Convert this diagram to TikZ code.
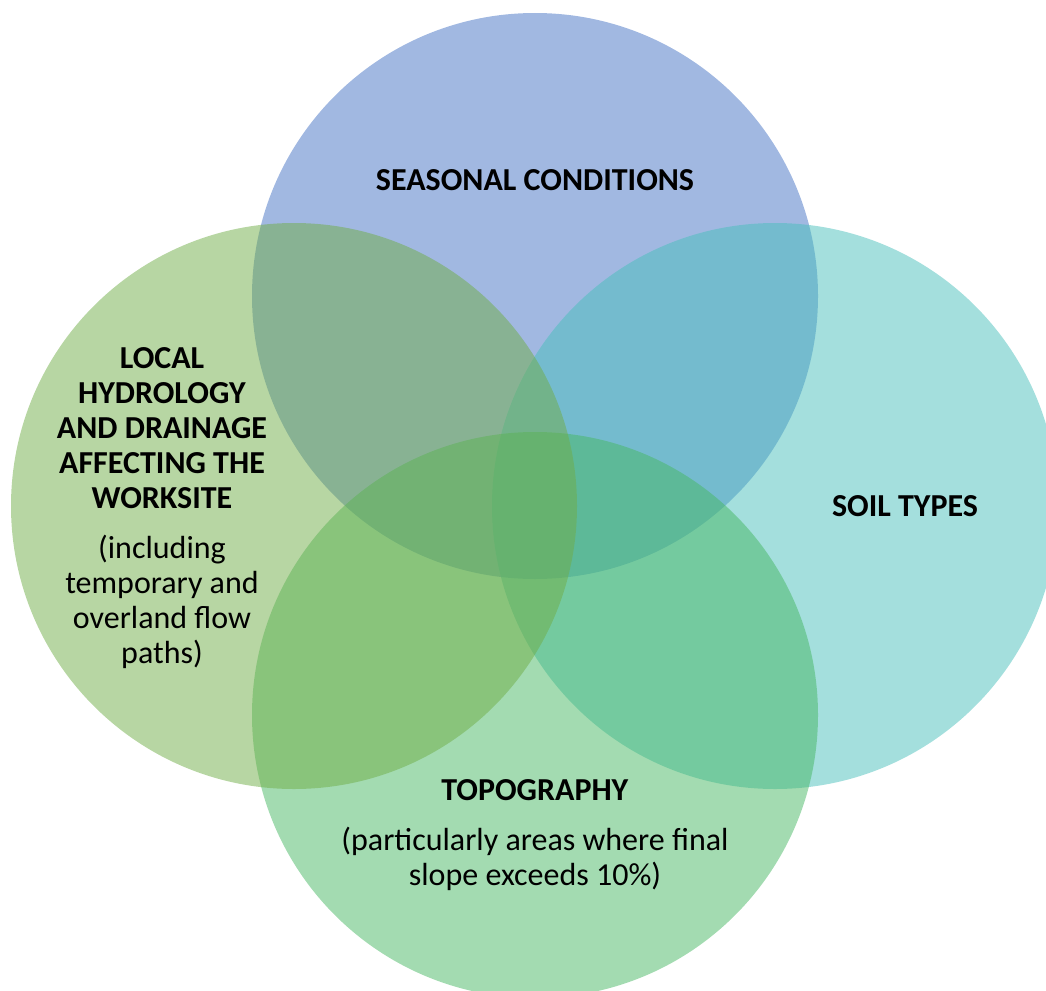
\documentclass[tikz,border=0pt]{standalone}
\usepackage{fontspec}
\setmainfont{Carlito}
\definecolor{cblue}{RGB}{68,114,196}
\definecolor{cteal}{RGB}{73,191,187}
\definecolor{cgreen}{RGB}{71,183,99}
\definecolor{clime}{RGB}{112,173,71}
\begin{document}
\begin{tikzpicture}[x=1pt,y=-1pt,
  venn/.style={circle,minimum size=566pt,inner sep=0pt,fill opacity=0.5,draw=none},
  lbl/.style={align=center,text=black,font=\fontsize{32}{35}\selectfont}]
\useasboundingbox (0,0) rectangle (1046,990);
\node[venn,fill=cblue] (top) at (535,296) {};
\node[venn,fill=cteal] (right) at (775,506) {};
\node[venn,fill=cgreen] (bottom) at (535,715) {};
\node[venn,fill=clime] (left) at (294,506) {};
\node[lbl] (tseason) at (535,180) {\textbf{SEASONAL CONDITIONS}};
\node[lbl] (tsoil) at (905,506) {\textbf{SOIL TYPES}};
\node[lbl] (thydro) at (162,508) {\textbf{LOCAL}\\\textbf{HYDROLOGY}\\\textbf{AND DRAINAGE}\\\textbf{AFFECTING THE}\\\textbf{WORKSITE}\\[15pt](including\\temporary and\\overland flow\\paths)};
\node[lbl] (ttopo) at (535,835) {\textbf{TOPOGRAPHY}\\[15pt](particularly areas where final\\slope exceeds 10\%)};
\end{tikzpicture}
\end{document}
